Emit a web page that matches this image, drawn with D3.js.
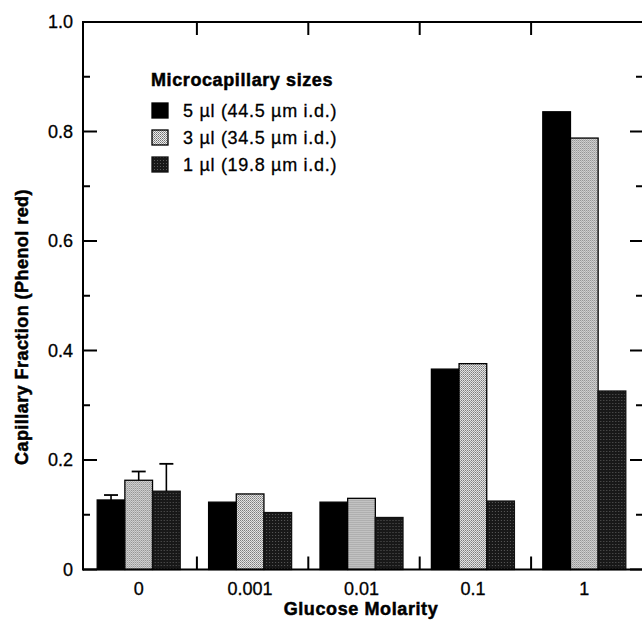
<!DOCTYPE html>
<html>
<head>
<meta charset="utf-8">
<script src="https://cdn.jsdelivr.net/npm/d3@7/dist/d3.min.js"></script>
<style>
  html, body { margin: 0; padding: 0; background: #fff; }
  svg { display: block; font-family: "Liberation Sans", Arial, Helvetica, sans-serif; }
</style>
</head>
<body>
<svg id="chart" width="642" height="620"></svg>
<script>
// ---- data ----
const categories = ["0", "0.001", "0.01", "0.1", "1"];
const seriesNames = ["5 µl (44.5 µm i.d.)", "3 µl (34.5 µm i.d.)", "1 µl (19.8 µm i.d.)"];
const values5ul = [0.127, 0.123, 0.123, 0.366, 0.836];
const values3ul = [0.163, 0.138, 0.130, 0.376, 0.788];
const values1ul = [0.143, 0.104, 0.095, 0.125, 0.326];
const errorTop5ul = [0.136, null, null, null, null];
const errorTop3ul = [0.179, null, null, null, null];
const errorTop1ul = [0.193, null, null, null, null];
const yMajorTicks = [0, 0.2, 0.4, 0.6, 0.8, 1.0];
const yMinorTicks = [0.1, 0.3, 0.5, 0.7, 0.9];
const yTickLabels = ["0", "0.2", "0.4", "0.6", "0.8", "1.0"];
const legendTitle = "Microcapillary sizes";
const xTitle = "Glucose Molarity";
const yTitle = "Capillary Fraction (Phenol red)";

const seriesValues = [values5ul, values3ul, values1ul];
const seriesErrors = [errorTop5ul, errorTop3ul, errorTop1ul];

// ---- layout ----
const svg = d3.select("#chart");
const pLeft = 83, pRight = 643, pTop = 22, pBottom = 569.5;

const defs = svg.append("defs");
const pl = defs.append("pattern").attr("id", "patLight").attr("patternUnits", "userSpaceOnUse")
  .attr("width", 2).attr("height", 2);
pl.append("rect").attr("width", 2).attr("height", 2).attr("fill", "#eeeeee");
pl.append("rect").attr("x", 0).attr("y", 0).attr("width", 1).attr("height", 1).attr("fill", "#707070");
pl.append("rect").attr("x", 1).attr("y", 1).attr("width", 1).attr("height", 1).attr("fill", "#959595");

const pd = defs.append("pattern").attr("id", "patDark").attr("patternUnits", "userSpaceOnUse")
  .attr("width", 3).attr("height", 3);
pd.append("rect").attr("width", 3).attr("height", 3).attr("fill", "#181818");
pd.append("rect").attr("x", 1).attr("y", 1).attr("width", 1).attr("height", 1).attr("fill", "#5a5a5a");

const fills = ["#000", "url(#patLight)", "url(#patDark)"];
const strokes = ["#000", "#000", "#111"];

const x = d3.scaleBand().domain(categories).range([pLeft, 640]).padding(0);
const xs = d3.scaleBand().domain(d3.range(3)).range([-41.5, 41.5]).padding(0);
const y = d3.scaleLinear().domain([0, 1]).range([pBottom, pTop]);

// bars
categories.forEach((c, i) => {
  const g = svg.append("g").attr("transform", `translate(${x(c) + x.bandwidth() / 2},0)`);
  seriesValues.forEach((vals, s) => {
    g.append("rect")
      .attr("x", xs(s)).attr("width", xs.bandwidth())
      .attr("y", y(vals[i])).attr("height", y(0) - y(vals[i]))
      .attr("fill", fills[s]).attr("stroke", strokes[s]).attr("stroke-width", 1.3);
    const e = seriesErrors[s][i];
    if (e != null) {
      const cx = xs(s) + xs.bandwidth() / 2;
      g.append("line").attr("x1", cx).attr("x2", cx).attr("y1", y(vals[i])).attr("y2", y(e))
        .attr("stroke", "#000").attr("stroke-width", 1.6);
      g.append("line").attr("x1", cx - 7).attr("x2", cx + 7).attr("y1", y(e)).attr("y2", y(e))
        .attr("stroke", "#000").attr("stroke-width", 1.8);
    }
  });
});

// frame lines
const frame = svg.append("g").attr("stroke", "#000").attr("stroke-width", 2).attr("fill", "none");
frame.append("line").attr("x1", pLeft).attr("x2", pRight).attr("y1", pBottom).attr("y2", pBottom);
frame.append("line").attr("x1", pLeft).attr("x2", pRight).attr("y1", pTop).attr("y2", pTop);
frame.append("line").attr("x1", pLeft).attr("x2", pLeft).attr("y1", pTop - 1).attr("y2", pBottom + 1);
frame.append("line").attr("x1", pRight).attr("x2", pRight).attr("y1", pTop - 1).attr("y2", pBottom + 1);

// axis ticks (inward)
const ticks = svg.append("g").attr("stroke", "#000").attr("stroke-width", 2);
yMajorTicks.forEach(t => {
  ticks.append("line").attr("x1", pLeft).attr("x2", pLeft + 14).attr("y1", y(t)).attr("y2", y(t));
  ticks.append("line").attr("x1", pRight).attr("x2", pRight - 13).attr("y1", y(t)).attr("y2", y(t));
});
yMinorTicks.forEach(t => {
  ticks.append("line").attr("x1", pLeft).attr("x2", pLeft + 7).attr("y1", y(t)).attr("y2", y(t));
  ticks.append("line").attr("x1", pRight).attr("x2", pRight - 7).attr("y1", y(t)).attr("y2", y(t));
});
// separator ticks on bottom and top
categories.slice(1).forEach(c => {
  const sx = x(c) + 2.5;
  ticks.append("line").attr("x1", sx).attr("x2", sx).attr("y1", pBottom).attr("y2", pBottom - 13);
  ticks.append("line").attr("x1", sx).attr("x2", sx).attr("y1", pTop).attr("y2", pTop + 13);
});

// y tick labels
svg.append("g").selectAll("text").data(yMajorTicks).join("text")
  .attr("x", 73).attr("y", d => y(d)).attr("dy", "0.35em")
  .attr("text-anchor", "end").attr("font-size", 18).attr("fill", "#000")
  .attr("stroke", "#000").attr("stroke-width", 0.3)
  .text((d, i) => yTickLabels[i]);

// x tick labels
svg.append("g").selectAll("text").data(categories).join("text")
  .attr("x", d => x(d) + x.bandwidth() / 2).attr("y", 595)
  .attr("text-anchor", "middle").attr("font-size", 18).attr("fill", "#000")
  .attr("stroke", "#000").attr("stroke-width", 0.3)
  .text(d => d);

// axis titles
svg.append("text").attr("x", 361).attr("y", 615).attr("text-anchor", "middle")
  .attr("font-size", 18).attr("font-weight", "bold").attr("letter-spacing", 0.6)
  .attr("stroke", "#000").attr("stroke-width", 0.5).text(xTitle);
svg.append("text").attr("transform", "translate(28,327) rotate(-90)").attr("text-anchor", "middle")
  .attr("font-size", 18).attr("font-weight", "bold").attr("letter-spacing", 0.45)
  .attr("stroke", "#000").attr("stroke-width", 0.5).text(yTitle);

// legend
const lg = svg.append("g");
lg.append("text").attr("x", 151).attr("y", 86).attr("font-size", 18).attr("font-weight", "bold")
  .attr("letter-spacing", 0.6).attr("stroke", "#000").attr("stroke-width", 0.5).text(legendTitle);
seriesNames.forEach((n, s) => {
  const cy = 110.5 + s * 27;
  lg.append("rect").attr("x", 152).attr("y", cy - 7.5).attr("width", 16).attr("height", 15)
    .attr("fill", fills[s]).attr("stroke", strokes[s]).attr("stroke-width", 1.3);
  lg.append("text").attr("x", 183).attr("y", cy).attr("dy", "0.36em").attr("font-size", 18)
    .attr("letter-spacing", 0.7).attr("stroke", "#000").attr("stroke-width", 0.3).text(n);
});
</script>
</body>
</html>
